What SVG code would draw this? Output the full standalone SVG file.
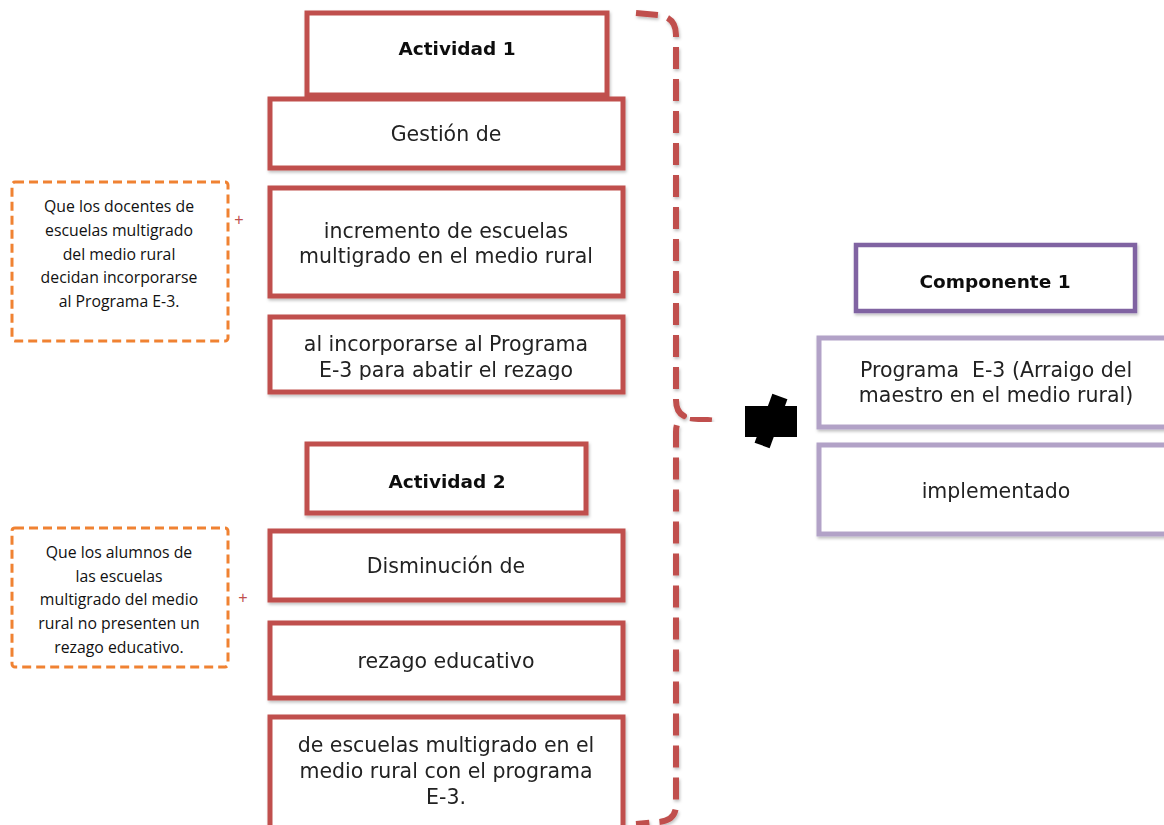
<svg xmlns="http://www.w3.org/2000/svg" width="1164" height="825" viewBox="0 0 1164 825">
  <style>
    .act { fill: #fff; stroke: #C0504D; stroke-width: 5; }
    .comp { fill: #fff; stroke: #8064A2; stroke-width: 4.5; }
    .compb { fill: #fff; stroke: #B2A2C7; stroke-width: 5; }
    .sup { fill: #fff; stroke: #F08232; stroke-width: 3; stroke-dasharray: 9 5; }
    .t { font-family: "DejaVu Sans", "Liberation Sans", sans-serif; font-size: 20.5px; fill: #222; text-anchor: middle; }
    .tb { font-family: "DejaVu Sans", "Liberation Sans", sans-serif; font-size: 18.5px; font-weight: bold; fill: #111; text-anchor: middle; }
    .ts { font-family: "Open Sans", "Liberation Sans", sans-serif; font-size: 15.8px; fill: #111; text-anchor: middle; }
    .plus { font-family: "Liberation Sans", sans-serif; font-size: 16px; fill: #C0504D; text-anchor: middle; }
    .brace { fill: none; stroke: #C0504D; stroke-width: 6; stroke-dasharray: 22 10; stroke-linejoin: round; }
  </style>
  <defs>
    <filter id="sh" x="-5%" y="-5%" width="115%" height="120%">
      <feDropShadow dx="1" dy="2" stdDeviation="1.5" flood-color="#000" flood-opacity="0.25"/>
    </filter>
    <clipPath id="c3"><rect x="272" y="319" width="349" height="61"/></clipPath>
  </defs>
  <rect width="1164" height="825" fill="#fff"/>

  <!-- Activity 1 -->
  <g id="actividad1" filter="url(#sh)">
    <rect class="act" x="307" y="13" width="300" height="82"/>
    <text class="tb" x="457" y="55">Actividad 1</text>
  </g>
  <g id="a1-gestion" filter="url(#sh)">
    <rect class="act" x="270" y="99" width="353" height="69"/>
    <text class="t" x="446" y="141">Gestión de</text>
  </g>
  <g id="a1-incremento" filter="url(#sh)">
    <rect class="act" x="270" y="188" width="353" height="108"/>
    <text class="t" x="446" y="238">incremento de escuelas</text>
    <text class="t" x="446" y="263">multigrado en el medio rural</text>
  </g>
  <g id="a1-incorporarse" filter="url(#sh)">
    <rect class="act" x="270" y="317" width="353" height="75"/>
    <g clip-path="url(#c3)">
      <text class="t" x="446" y="351">al incorporarse al Programa</text>
      <text class="t" x="446" y="377">E-3 para abatir el rezago</text>
    </g>
  </g>

  <!-- Activity 2 -->
  <g id="actividad2" filter="url(#sh)">
    <rect class="act" x="307" y="444" width="279" height="69"/>
    <text class="tb" x="447" y="488">Actividad 2</text>
  </g>
  <g id="a2-disminucion" filter="url(#sh)">
    <rect class="act" x="270" y="531" width="353" height="69"/>
    <text class="t" x="446" y="573">Disminución de</text>
  </g>
  <g id="a2-rezago" filter="url(#sh)">
    <rect class="act" x="270" y="623" width="353" height="75"/>
    <text class="t" x="446" y="668">rezago educativo</text>
  </g>
  <g id="a2-escuelas" filter="url(#sh)">
    <rect class="act" x="270" y="717" width="353" height="112"/>
    <text class="t" x="446" y="752">de escuelas multigrado en el</text>
    <text class="t" x="446" y="778">medio rural con el programa</text>
    <text class="t" x="446" y="804">E-3.</text>
  </g>

  <!-- Assumptions -->
  <g id="supuesto1">
    <rect class="sup" x="12" y="182" width="216" height="159" rx="3"/>
    <text class="ts" x="119" y="212">Que los docentes de</text>
    <text class="ts" x="119" y="236">escuelas multigrado</text>
    <text class="ts" x="119" y="260">del medio rural</text>
    <text class="ts" x="119" y="283">decidan incorporarse</text>
    <text class="ts" x="119" y="307">al Programa E-3.</text>
    <text class="plus" x="239" y="225">+</text>
  </g>
  <g id="supuesto2">
    <rect class="sup" x="12" y="528" width="216" height="139" rx="3"/>
    <text class="ts" x="119" y="558">Que los alumnos de</text>
    <text class="ts" x="119" y="582">las escuelas</text>
    <text class="ts" x="119" y="605">multigrado del medio</text>
    <text class="ts" x="119" y="629">rural no presenten un</text>
    <text class="ts" x="119" y="653">rezago educativo.</text>
    <text class="plus" x="243" y="603">+</text>
  </g>

  <!-- Component -->
  <g id="componente1" filter="url(#sh)">
    <rect class="comp" x="856" y="245" width="279" height="66"/>
    <text class="tb" x="995" y="288">Componente 1</text>
  </g>
  <g id="c1-programa" filter="url(#sh)">
    <rect class="compb" x="819" y="338" width="360" height="89"/>
    <text class="t" x="996" y="377">Programa&#160; E-3 (Arraigo del</text>
    <text class="t" x="996" y="402">maestro en el medio rural)</text>
  </g>
  <g id="c1-implementado" filter="url(#sh)">
    <rect class="compb" x="819" y="445" width="360" height="89"/>
    <text class="t" x="996" y="498">implementado</text>
  </g>

  <!-- Connectors -->
  <g id="connectors">
    <path class="brace" filter="url(#sh)" d="M636,13 L658,15 Q676,17 676,35 V400 Q676,412 684,416 Q676,420 676,432 V805 Q676,821 658,822 L636,824"/>
    <path class="brace" filter="url(#sh)" d="M690,418 L716,421"/>
    <g id="arrow-mark" fill="#000">
      <rect x="745" y="406" width="52" height="31"/>
      <rect x="-8" y="-26" width="16" height="52" transform="translate(771,421) rotate(20)"/>
    </g>
  </g>
</svg>
